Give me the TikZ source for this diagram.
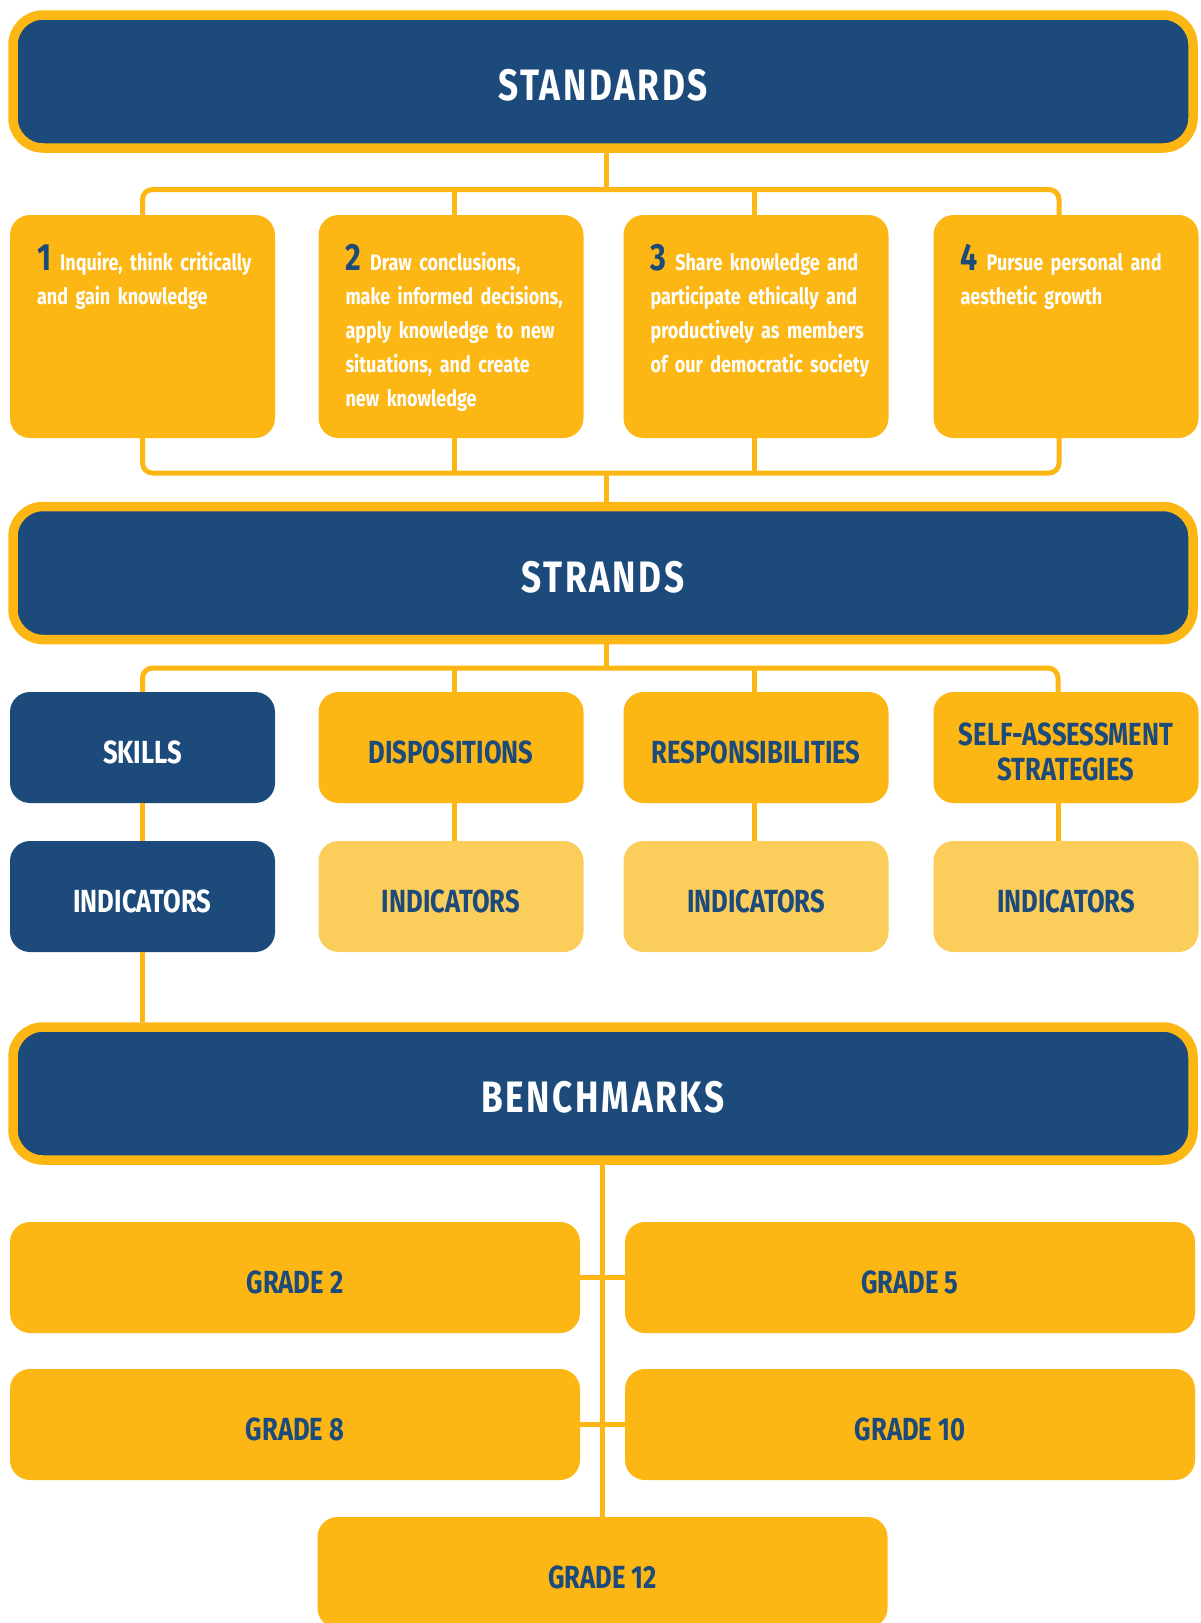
\documentclass[tikz,border=0pt]{standalone}
\usepackage{fontspec}
\setmainfont{Fira Sans}[FakeStretch=0.8]
\usetikzlibrary{positioning}
\definecolor{navy}{HTML}{1B4A7B}
\definecolor{gold}{HTML}{FCB715}
\definecolor{pale}{HTML}{FBCD5B}

\begin{document}
\begin{tikzpicture}[x=1pt,y=-1pt,
	level/.style={draw=gold,line width=9.5pt,fill=navy,rounded corners=30pt,minimum width=1180pt,minimum height=133pt,text=white,text height=38pt,text depth=0pt,font=\fontsize{44}{44}\selectfont\bfseries\addfontfeature{LetterSpace=6}},
	goal/.style={fill=gold,rounded corners=20pt,minimum width=265pt,minimum height=223pt},
	goaltext/.style={anchor=base west,text width=245pt,align=left,text=white,inner sep=0pt,font=\fontsize{22.5}{34}\selectfont\bfseries},
	part/.style={fill=gold,rounded corners=20pt,minimum width=265pt,minimum height=111pt,text=navy,align=center,text height=32pt,text depth=0pt,font=\fontsize{32}{35}\selectfont\bfseries},
	dark/.style={fill=navy,text=white},
	light/.style={fill=pale},
	grade/.style={part,minimum width=570pt},
	link/.style={draw=gold,line width=5pt}]
	\useasboundingbox (0,0) rectangle (1201,1623);

	\newcommand{\nr}[1]{{\color{navy}\fontsize{38}{34}\selectfont #1}\hspace{0.4em}}

	\node[level] (stand) at (603,81.5) {STANDARDS};

	\node[goal] (std1) at (142.5,326.5) {};
	\node[goal] (std2) at (451,326.5) {};
	\node[goal] (std3) at (756,326.5) {};
	\node[goal] (std4) at (1066,326.5) {};
	\node[goaltext] (txt1) at ([shift={(27,56)}]std1.north west) {\nr{1}Inquire, think critically\\and gain knowledge};
	\node[goaltext] (txt2) at ([shift={(27,56)}]std2.north west) {\nr{2}Draw conclusions,\\make informed decisions,\\apply knowledge to new\\situations, and create\\new knowledge};
	\node[goaltext] (txt3) at ([shift={(27,56)}]std3.north west) {\nr{3}Share knowledge and\\participate ethically and\\productively as members\\of our democratic society};
	\node[goaltext] (txt4) at ([shift={(27,56)}]std4.north west) {\nr{4}Pursue personal and\\aesthetic growth};

	\node[level] (strands) at (603,573) {STRANDS};

	\node[part,dark] (skills) at (142.5,747.5) {SKILLS};
	\node[part] (disp) at (451,747.5) {DISPOSITIONS};
	\node[part] (resp) at (756,747.5) {RESPONSIBILITIES};
	\node[part,text height=65pt] (self) at (1066,747.5) {SELF-ASSESSMENT\\STRATEGIES};
	\node[part,dark] (ind1) at (142.5,896.5) {INDICATORS};
	\node[part,light] (ind2) at (451,896.5) {INDICATORS};
	\node[part,light] (ind3) at (756,896.5) {INDICATORS};
	\node[part,light] (ind4) at (1066,896.5) {INDICATORS};

	\node[level] (bench) at (603,1093.5) {BENCHMARKS};

	\node[grade] (g2) at (295,1277.5) {GRADE 2};
	\node[grade] (g5) at (910,1277.5) {GRADE 5};
	\node[grade] (g8) at (295,1424.5) {GRADE 8};
	\node[grade] (g10) at (910,1424.5) {GRADE 10};
	\node[grade] (g12) at (602.5,1572.5) {GRADE 12};

	\coordinate (ta) at (606,189.5);
	\coordinate (tb) at (606,473);
	\coordinate (sa) at (606,668);

	\draw[link] (stand.south -| ta) -- (ta);
	\draw[link,rounded corners=10pt] (std1.north) |- (ta) -| ([xshift=-7pt]std4.north);
	\draw[link] ([xshift=3pt]std2.north) -- ([xshift=3pt]std2.north |- ta);
	\draw[link] ([xshift=-2pt]std3.north) -- ([xshift=-2pt]std3.north |- ta);
	\draw[link,rounded corners=10pt] (std1.south) |- (tb) -| ([xshift=-7pt]std4.south);
	\draw[link] ([xshift=3pt]std2.south) -- ([xshift=3pt]std2.south |- tb);
	\draw[link] ([xshift=-2pt]std3.south) -- ([xshift=-2pt]std3.south |- tb);
	\draw[link] (tb) -- (strands.north -| tb);

	\draw[link] (strands.south -| sa) -- (sa);
	\draw[link,rounded corners=10pt] (skills.north) |- (sa) -| ([xshift=-8pt]self.north);
	\draw[link] ([xshift=3pt]disp.north) -- ([xshift=3pt]disp.north |- sa);
	\draw[link] ([xshift=-2pt]resp.north) -- ([xshift=-2pt]resp.north |- sa);
	\draw[link] (skills) -- (ind1);
	\draw[link] ([xshift=3pt]disp.south) -- ([xshift=3pt]ind2.north);
	\draw[link] ([xshift=-2pt]resp.south) -- ([xshift=-2pt]ind3.north);
	\draw[link] ([xshift=-8pt]self.south) -- ([xshift=-8pt]ind4.north);
	\draw[link] (ind1.south) -- (ind1.south |- bench.north);

	\draw[link] (g12.north |- bench.south) -- (g12.north);
	\draw[link] (g2.east) -- (g5.west);
	\draw[link] (g8.east) -- (g10.west);
\end{tikzpicture}
\end{document}
